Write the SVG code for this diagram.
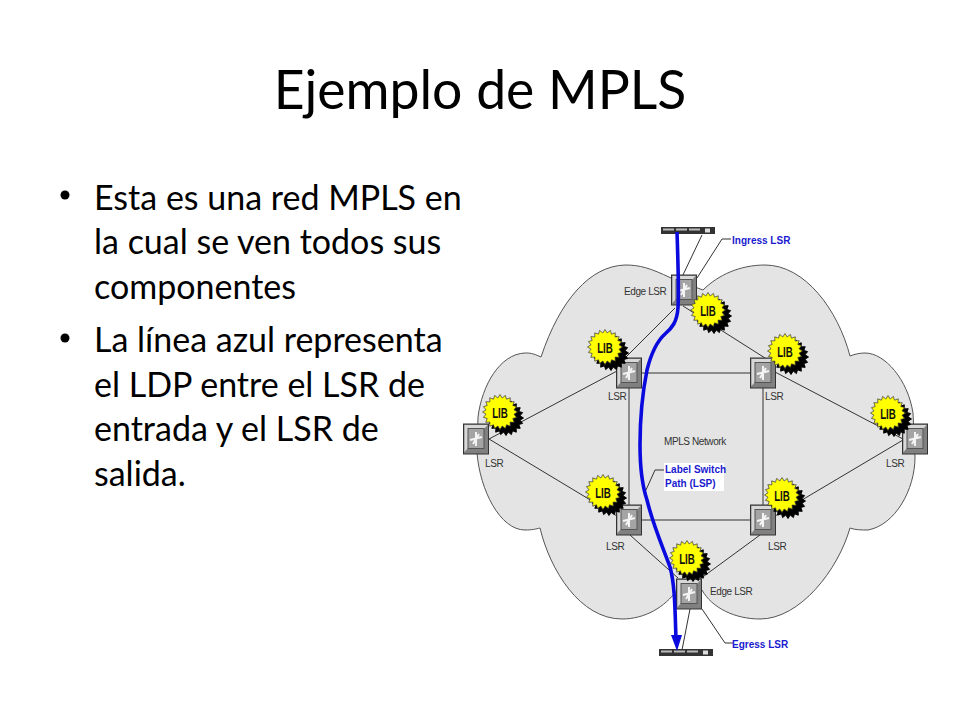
<svg xmlns="http://www.w3.org/2000/svg" width="960" height="720" viewBox="0 0 960 720">
<style>
.title{font-family:"Lato","Liberation Sans",sans-serif;font-size:53.500px;fill:#000}
.body{font-family:"Lato","Liberation Sans",sans-serif;font-size:34px;fill:#000}
.small{font-family:"Liberation Sans",sans-serif;font-size:10px;letter-spacing:-.4px;fill:#333}
.blue{font-family:"Liberation Sans",sans-serif;font-size:10px;font-weight:bold;fill:#1a1ad0}
.lib{font-family:"Liberation Sans",sans-serif;font-size:15px;font-weight:bold;fill:#111;text-anchor:middle}
.link{fill:none;stroke:#333;stroke-width:1}
.lsp{fill:none;stroke:#0a0adf;stroke-width:3.600;stroke-linejoin:round}
</style>
<defs>
<polygon id="star" points="17.5,0 14,2.2 16.6,5.4 12.8,6.5 14.2,10.3 10.1,10.1 10.3,14.2 6.5,12.8 5.4,16.6 2.2,14 0,17.5 -2.2,14 -5.4,16.6 -6.5,12.8 -10.3,14.2 -10.1,10.1 -14.2,10.3 -12.8,6.5 -16.6,5.4 -14,2.2 -17.5,0 -14,-2.2 -16.6,-5.4 -12.8,-6.5 -14.2,-10.3 -10.1,-10.1 -10.3,-14.2 -6.5,-12.8 -5.4,-16.6 -2.2,-14 0,-17.5 2.2,-14 5.4,-16.6 6.5,-12.8 10.3,-14.2 10.1,-10.1 14.2,-10.3 12.8,-6.5 16.6,-5.4 14,-2.2"/>
<g id="burst">
<use href="#star" x="6" y="6" fill="#000" stroke="#000"/>
<use href="#star" fill="#ffff00" stroke="#333" stroke-width="0.7"/>
<text class="lib" y="5.500" transform="scale(.65 1)">LIB</text>
</g>
<g id="router">
<rect x="-12.500" y="-15" width="25" height="30" fill="#808080" stroke="#333" stroke-width="1"/>
<path d="M-11.500-14H11.500L8-10H-8L-8 9L-11.500 13Z" fill="#d8d8d8"/>
<rect x="-8" y="-10.500" width="16" height="20" fill="#a4a4a4" stroke="#555" stroke-width="1"/>
<path d="M0-7V7M-6 1L6-2M-3 5L3-5" fill="none" stroke="#f4f4f4" stroke-width="2"/>
</g>
<g id="bar">
<rect width="54" height="7" fill="#333"/>
<path d="M2 2.500H13M15 2.500H26M28 2.500H39" stroke="#bbb" stroke-width="2"/>
<rect x="44" y="1.500" width="5" height="4" fill="#ddd"/>
</g>
</defs>
<rect width="960" height="720" fill="#fff"/>
<text class="title" x="480" y="109" text-anchor="middle">Ejemplo de MPLS</text>
<g id="bullets">
<circle cx="65" cy="195" r="4.500"/>
<circle cx="65" cy="338" r="4.500"/>
<text class="body" x="94" y="210">Esta es una red MPLS en</text>
<text class="body" x="94" y="254">la cual se ven todos sus</text>
<text class="body" x="94" y="299">componentes</text>
<text class="body" x="94" y="352">La línea azul representa</text>
<text class="body" x="94" y="397">el LDP entre el LSR de</text>
<text class="body" x="94" y="441">entrada y el LSR de</text>
<text class="body" x="94" y="486">salida.</text>
</g>
<path id="cloud" fill="#e4e4e4" stroke="#555" stroke-width="1" d="M671 278C650 268 640 265 625 265C590 266 560 300 541 357C532 353 530 353 525 353C500 354 482 385 478 417L477 453C480 490 500 530 525 530C532 530 536 529 540 528C550 570 580 619 622 619C645 619 665 607 677 590L702 590C712 608 735 619 760 619C800 619 838 570 850 528C855 530 862 530 868 530C895 525 915 490 915 457L913 413C908 380 885 353 865 353C860 353 855 354 850 356C838 310 805 265 765 265C740 265 718 275 703 290Z"/>
<g id="connectors">
<path class="link" d="M675 308L625 358M683 306L765 358M629 373H763M629 373V520M763 373V520M629 520H763M489 439L617 371M489 439L617 516M775 372L903 439M903 440L775 516M630 535L678 578M760 535L700 579"/>
<path class="link" d="M682 277L702 235M697 278L722 239H731M690 609L682 650M702 609L725 643H733M646 490L655 470H664"/>
</g>
<g id="label-lsp">
<rect x="664" y="463" width="60" height="28" fill="#fff"/>
<text class="blue" x="665" y="473">Label Switch</text>
<text class="blue" x="665" y="487">Path (LSP)</text>
</g>
<g id="ingress-device"><use href="#bar" x="661" y="227"/></g>
<g id="egress-device"><use href="#bar" x="659" y="649"/></g>
<g id="edge-lsr-top"><use href="#router" x="684" y="290"/><text class="small" x="624" y="295">Edge LSR</text></g>
<g id="lsr-ul"><use href="#router" x="629" y="373"/><text class="small" x="608" y="400">LSR</text></g>
<g id="lsr-ur"><use href="#router" x="763" y="373"/><text class="small" x="765" y="400">LSR</text></g>
<g id="lsr-left"><use href="#router" x="476" y="439"/><text class="small" x="485" y="467">LSR</text></g>
<g id="lsr-right"><use href="#router" x="915" y="439"/><text class="small" x="886" y="467">LSR</text></g>
<g id="lsr-ll"><use href="#router" x="629" y="520"/><text class="small" x="606" y="550">LSR</text></g>
<g id="lsr-lr"><use href="#router" x="763" y="520"/><text class="small" x="768" y="550">LSR</text></g>
<g id="edge-lsr-bottom"><use href="#router" x="689" y="594"/><text class="small" x="710" y="595">Edge LSR</text></g>
<g id="lib-1"><use href="#burst" x="708" y="310"/></g>
<g id="lib-2"><use href="#burst" x="605" y="347"/></g>
<g id="lib-3"><use href="#burst" x="785" y="351"/></g>
<g id="lib-4"><use href="#burst" x="500" y="412"/></g>
<g id="lib-5"><use href="#burst" x="888" y="413"/></g>
<g id="lib-6"><use href="#burst" x="603" y="492"/></g>
<g id="lib-7"><use href="#burst" x="782" y="495"/></g>
<g id="lib-8"><use href="#burst" x="687" y="558"/></g>
<text class="small" x="664" y="445">MPLS Network</text>
<text class="blue" x="732" y="244">Ingress LSR</text>
<text class="blue" x="732" y="648">Egress LSR</text>
<path class="lsp" d="M677 232C678 260 679 290 678 308C677 322 672 328 665 334C655 343 650 358 647 370C642 395 640 420 640 445C640 470 642 485 647 500C653 525 662 545 670 567C675 585 675 610 676 640"/>
<polygon points="671,635 682,635 677,651" fill="#0a0adf"/>
</svg>
